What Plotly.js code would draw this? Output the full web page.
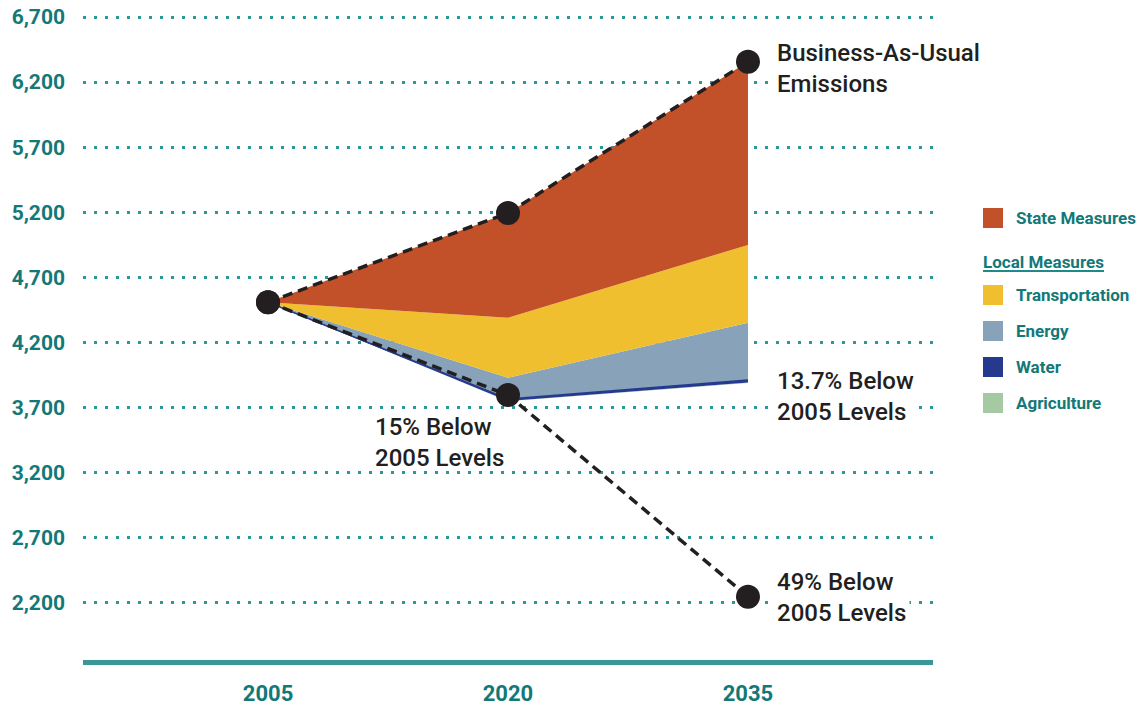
<!DOCTYPE html>
<html><head><meta charset="utf-8">
<script src="https://cdn.plot.ly/plotly-3.0.1.min.js"></script>
<style>html,body{margin:0;padding:0;background:#fff}#chart{width:1146px;height:708px}</style>
</head><body><div id="chart"></div>
<script>
// ---- data ----
const years = ["2005", "2020", "2035"];
const businessAsUsual     = [4510, 5195, 6357];
const afterStateMeasures  = [4510, 4391, 4950];
const afterTransportation = [4510, 3930, 4352];
const afterEnergy         = [4510, 3766, 3912];
const afterWater          = [4510, 3752, 3894];
const afterAgriculture    = [4510, 3749, 3889];
const reductionTarget     = [4510, 3797, 2248];
const yTickValues = [2200, 2700, 3200, 3700, 4200, 4700, 5200, 5700, 6200, 6700];
const yTickLabels = ["2,200", "2,700", "3,200", "3,700", "4,200", "4,700", "5,200", "5,700", "6,200", "6,700"];
const legendNames  = ["State Measures", "Transportation", "Energy", "Water", "Agriculture"];
const legendColors = ["#c25028", "#efbf30", "#87a2b9", "#253a8f", "#a4c9a3"];
const legendHeader = "Local Measures";
const labelBAU    = "Business-As-Usual<br>Emissions";
const label137    = "13.7% Below<br>2005 Levels";
const label15     = "15% Below<br>2005 Levels";
const label49     = "49% Below<br>2005 Levels";

// ---- styles ----
const TEAL_TEXT = "#137878";
const DARK = "#231f20";
const FONT = "Roboto, 'Liberation Sans', sans-serif";
const M = {l: 83, r: 213, t: 10, b: 48};
const W = 1146, H = 708;
const pw = W - M.l - M.r, ph = H - M.t - M.b;
const px2x = p => (p - M.l) / pw;
const px2y = p => (H - M.b - p) / ph;
const i2020 = years.indexOf("2020"), i2035 = years.indexOf("2035");

function band(y, color, lineColor, lineWidth) {
  return {
    type: "scatter", mode: "lines", x: years, y: y,
    fill: color ? "tonexty" : "none",
    fillcolor: color || "rgba(0,0,0,0)",
    line: {width: lineWidth || 0, color: lineColor || "rgba(0,0,0,0)"},
    hoverinfo: "skip", showlegend: false
  };
}

const traces = [
  band(afterAgriculture, null),
  band(afterWater, legendColors[4]),
  band(afterEnergy, legendColors[3], legendColors[3], 1.5),
  band(afterTransportation, legendColors[2]),
  band(afterStateMeasures, legendColors[1]),
  band(businessAsUsual, legendColors[0]),
  {
    type: "scatter", mode: "lines+markers", x: years, y: businessAsUsual,
    line: {color: DARK, width: 3.5, dash: "10px,6px"},
    marker: {color: DARK, size: 24}, hoverinfo: "skip", showlegend: false
  },
  {
    type: "scatter", mode: "lines+markers", x: years, y: reductionTarget,
    line: {color: DARK, width: 3.5, dash: "10px,6px"},
    marker: {color: DARK, size: 24}, hoverinfo: "skip", showlegend: false
  }
];

const noteFont = {family: FONT, size: 24, color: DARK, weight: 500};
const annotations = [
  {xref: "x", yref: "y", x: i2035, y: businessAsUsual[i2035], text: labelBAU, xanchor: "left", yanchor: "middle",
   xshift: 25, yshift: -7, align: "left", showarrow: false, font: noteFont,
   bgcolor: "#ffffff", borderpad: 3},
  {xref: "x", yref: "y", x: i2035, y: afterEnergy[i2035], text: label137, xanchor: "left", yanchor: "middle",
   xshift: 25, yshift: -16.5, align: "left", showarrow: false, font: noteFont,
   bgcolor: "#ffffff", borderpad: 3},
  {xref: "x", yref: "y", x: i2020, y: reductionTarget[i2020], text: label15, xanchor: "right", yanchor: "middle",
   xshift: 0, yshift: -47, align: "left", showarrow: false, font: noteFont, borderpad: 3},
  {xref: "x", yref: "y", x: i2035, y: reductionTarget[i2035], text: label49, xanchor: "left", yanchor: "middle",
   xshift: 25, yshift: -1, align: "left", showarrow: false, font: noteFont,
   bgcolor: "#ffffff", borderpad: 3}
];

// legend (drawn by hand)
const legendRows = [218, 295, 331, 367, 403];
const shapes = [];
const legFont = {family: FONT, size: 17, color: TEAL_TEXT, weight: 700};
legendNames.forEach((n, i) => {
  const cy = legendRows[i];
  shapes.push({type: "rect", xref: "paper", yref: "paper",
    x0: px2x(983), x1: px2x(1003), y0: px2y(cy + 10), y1: px2y(cy - 10),
    fillcolor: legendColors[i], line: {width: 0}});
  annotations.push({xref: "paper", yref: "paper", x: px2x(1014), y: px2y(cy),
    xanchor: "left", yanchor: "middle", text: n, showarrow: false, font: legFont});
});
annotations.push({xref: "paper", yref: "paper", x: px2x(981), y: px2y(262),
  xanchor: "left", yanchor: "middle", text: legendHeader, showarrow: false, font: legFont});
shapes.push({type: "line", xref: "paper", yref: "paper",
  x0: px2x(983), x1: px2x(1104), y0: px2y(271), y1: px2y(271),
  line: {color: "#1e8a8a", width: 2}});

const layout = {
  width: W, height: H, margin: M,
  paper_bgcolor: "#ffffff", plot_bgcolor: "#ffffff",
  showlegend: false,
  xaxis: {
    type: "category", categoryorder: "array", categoryarray: years,
    range: [-0.771, 2.771], showgrid: false, zeroline: false,
    showline: true, linecolor: "#3a9797", linewidth: 5, ticks: "",
    tickfont: {family: FONT, size: 22, color: TEAL_TEXT, weight: 700},
    ticklabelstandoff: 10, fixedrange: true
  },
  yaxis: {
    range: [1762, 6754], tickmode: "array", tickvals: yTickValues, ticktext: yTickLabels,
    showgrid: true, gridcolor: "#2b9898", gridwidth: 3, griddash: "3px,8px",
    zeroline: false, showline: false, ticks: "",
    tickfont: {family: FONT, size: 21, color: TEAL_TEXT, weight: 700},
    ticklabelstandoff: 17, fixedrange: true
  },
  shapes: shapes,
  annotations: annotations
};

Plotly.newPlot("chart", traces, layout, {displayModeBar: false, staticPlot: true});
</script>
</body></html>
